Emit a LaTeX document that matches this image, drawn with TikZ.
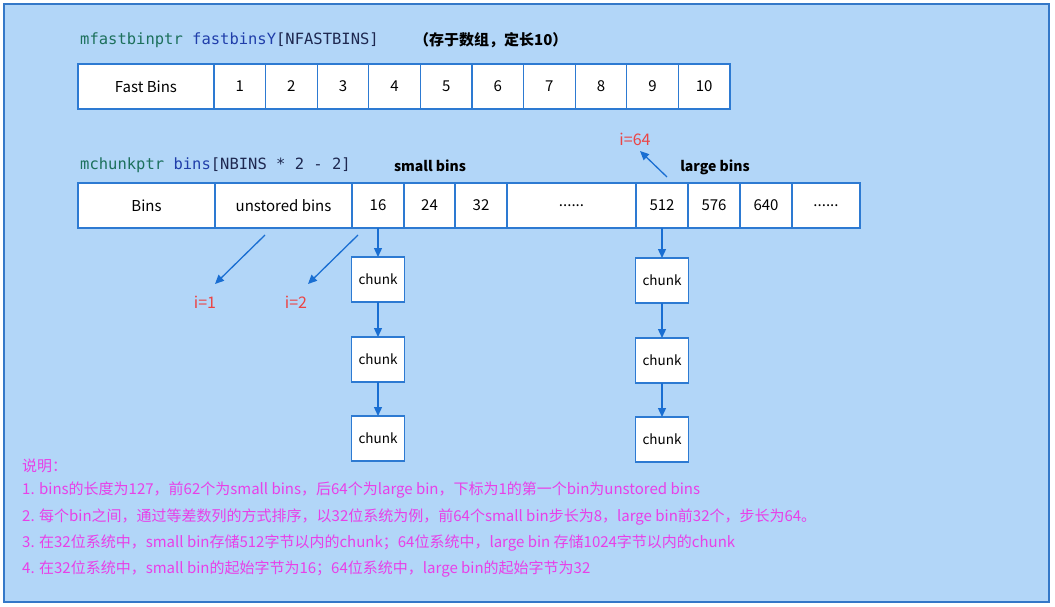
\documentclass[tikz,border=0pt]{standalone}
\usepackage{fontspec}
\setmainfont{Noto Sans CJK SC}
\setmonofont{DejaVu Sans Mono}
\usepackage{xcolor}
\usepackage{tikz}
\usetikzlibrary{arrows.meta,positioning,calc}

\definecolor{bgblue}{RGB}{178,214,248}
\definecolor{frameblue}{RGB}{52,120,200}
\definecolor{cellblue}{RGB}{45,122,210}
\definecolor{ptrblue}{RGB}{25,110,210}
\definecolor{idxred}{RGB}{236,68,68}
\definecolor{notepink}{RGB}{232,64,232}
\definecolor{codegreen}{RGB}{28,112,92}
\definecolor{codeblue}{RGB}{32,62,170}
\definecolor{codedark}{RGB}{30,40,80}

\tikzset{
  cell/.style={draw=cellblue, fill=white, line width=1.2pt, minimum height=45pt,
    inner sep=0pt, outer sep=0pt, font=\fontsize{15}{15}\selectfont},
  chunkbox/.style={cell, minimum width=53pt, font=\fontsize{13.5}{13.5}\selectfont},
  ptr/.style={draw=ptrblue, line width=1.3pt, -{Triangle[length=9pt,width=8pt]}},
  code/.style={anchor=west, inner sep=0pt, font=\ttfamily\fontsize{15.5}{15.5}\selectfont},
  idx/.style={text=idxred, inner sep=0pt, font=\fontsize{16}{16}\selectfont},
  note/.style={anchor=west, inner sep=0pt, text=notepink, font=\fontsize{15}{15}\selectfont}
}

\begin{document}
\begin{tikzpicture}[x=1pt, y=-1pt]
    % Frame
    \fill[white] (0,0) rectangle (1055,607);
    \useasboundingbox (0,0) rectangle (1055,607);
    \draw[frameblue, line width=1.5pt, fill=bgblue] (4,4) rectangle (1049,602);

    % Fast bins array
    \node[code] (fbcode) at (80,40) {\textcolor{codegreen}{mfastbinptr} \textcolor{codeblue}{fastbinsY}\textcolor{codedark}{[NFASTBINS]}};
    \node[anchor=west, inner sep=0pt, font=\bfseries\fontsize{15}{15}\selectfont] (fbnote) at (414,40) {（存于数组，定长10）};
    \node[cell, minimum width=136pt, anchor=north west] (fb0) at (78,64) {Fast Bins};
    \foreach \i [remember=\i as \j (initially 0)] in {1,...,10} {
        \node[cell, minimum width=51.6pt, right=0pt of fb\j] (fb\i) {\i};
    }

    % Bins array
    \node[code] (bcode) at (80,165) {\textcolor{codegreen}{mchunkptr} \textcolor{codeblue}{bins}\textcolor{codedark}{[NBINS * 2 - 2]}};
    \node[font=\bfseries\fontsize{14}{14}\selectfont, inner sep=0pt] (small) at (430,166) {small bins};
    \node[font=\bfseries\fontsize{14}{14}\selectfont, inner sep=0pt] (large) at (715,167) {large bins};
    \node[cell, minimum width=137pt, anchor=north west] (b0) at (78,183) {Bins};
    \node[cell, minimum width=137pt, right=0pt of b0] (bu) {unstored bins};
    \node[cell, minimum width=52pt, right=0pt of bu] (b16) {16};
    \node[cell, minimum width=51pt, right=0pt of b16] (b24) {24};
    \node[cell, minimum width=52pt, right=0pt of b24] (b32) {32};
    \node[cell, minimum width=129pt, right=0pt of b32] (bd1) {......};
    \node[cell, minimum width=52pt, right=0pt of bd1] (b512) {512};
    \node[cell, minimum width=52pt, right=0pt of b512] (b576) {576};
    \node[cell, minimum width=52pt, right=0pt of b576] (b640) {640};
    \node[cell, minimum width=68pt, right=0pt of b640] (bd2) {......};

    % Index labels
    \node[idx] (i1) at (205,302) {i=1};
    \node[idx] (i2) at (296,302) {i=2};
    \node[idx] (i64) at (635,139) {i=64};
    \coordinate (s1) at (265,235);
    \coordinate (e1) at (215,284);
    \coordinate (s2) at (358,235);
    \coordinate (e2) at (308,284);
    \coordinate (s64) at (667,177);
    \coordinate (e64) at (640,151);
    \draw[ptr] (s1) -- (e1);
    \draw[ptr] (s2) -- (e2);
    \draw[ptr] (s64) -- (e64);

    % Chunk lists
    \node[chunkbox, anchor=north] (sc1) at (b16.south |- 0,257) {chunk};
    \node[chunkbox, below=35pt of sc1] (sc2) {chunk};
    \node[chunkbox, below=34pt of sc2] (sc3) {chunk};
    \node[chunkbox, anchor=north] (lc1) at (b512.south |- 0,258) {chunk};
    \node[chunkbox, below=35pt of lc1] (lc2) {chunk};
    \node[chunkbox, below=34pt of lc2] (lc3) {chunk};
    \draw[ptr] (b16.south) -- (sc1.north);
    \draw[ptr] (sc1) -- (sc2);
    \draw[ptr] (sc2) -- (sc3);
    \draw[ptr] (b512.south) -- (lc1.north);
    \draw[ptr] (lc1) -- (lc2);
    \draw[ptr] (lc2) -- (lc3);

    % Notes
    \node[note] (n0) at (22,466) {说明：};
    \node[note] (n1) at (22,490) {1. bins的长度为127，前62个为small bins，后64个为large bin，下标为1的第一个bin为unstored bins};
    \node[note] (n2) at (22,517) {2. 每个bin之间，通过等差数列的方式排序，以32位系统为例，前64个small bin步长为8，large bin前32个，步长为64。};
    \node[note] (n3) at (22,543) {3. 在32位系统中，small bin存储512字节以内的chunk；64位系统中，large bin 存储1024字节以内的chunk};
    \node[note] (n4) at (22,569) {4. 在32位系统中，small bin的起始字节为16；64位系统中，large bin的起始字节为32};
\end{tikzpicture}
\end{document}
